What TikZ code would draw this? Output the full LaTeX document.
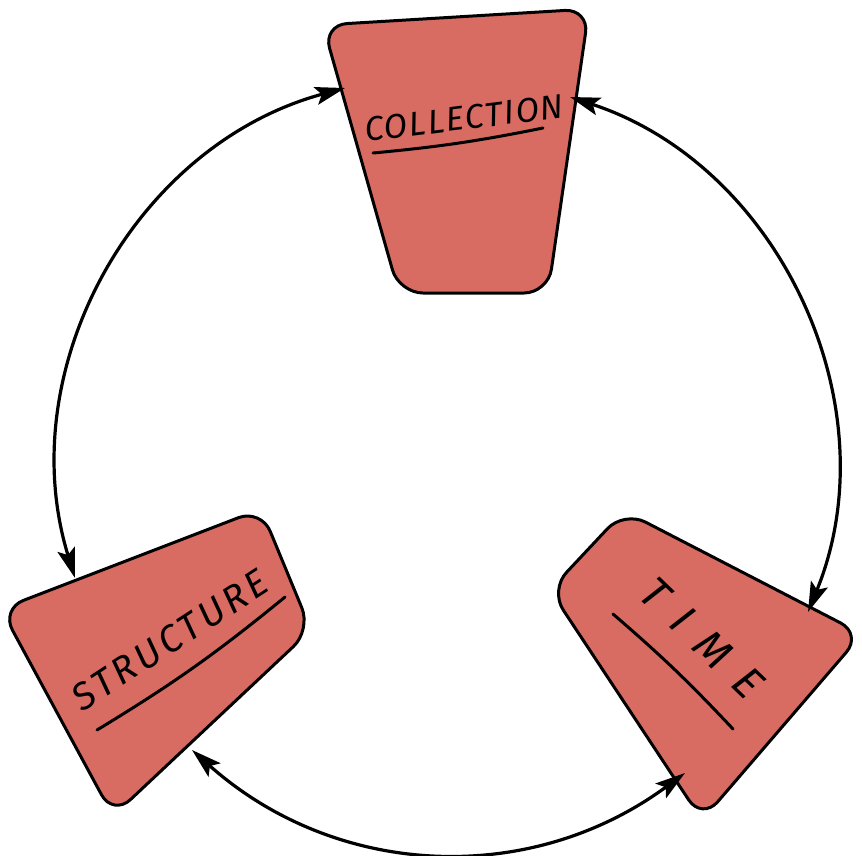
\documentclass[tikz,border=0pt]{standalone}
\usepackage{fontspec}
\setmainfont{Fira Sans}
\usetikzlibrary{arrows.meta,positioning}
\definecolor{blobred}{RGB}{217,108,98}
\begin{document}
\begin{tikzpicture}[x=1pt,y=-1pt,>={Stealth[length=30pt,width=18pt,inset=6pt]}]
\tikzstyle{blob}=[draw=black,fill=blobred,line width=3pt,rounded corners=24pt,line join=round]
\tikzstyle{lab}=[font=\fontsize{34}{40}\selectfont\itshape,inner sep=0pt]
\tikzstyle{uline}=[line width=3pt,line cap=round]
\tikzstyle{link}=[<->,line width=3.2pt]
\useasboundingbox (0,0) rectangle (862,855);
\draw[blob] (323,25) -- (589,9) -- (548,293) -- (399,293) -- cycle;
\draw[blob] (1,609) -- (261,509) -- (311,630) -- (113,816) -- cycle;
\draw[blob] (550,590) -- (624,511) -- (862,634) -- (702,820) -- cycle;
\node[lab,rotate=7] (coll) at (464,118) {\addfontfeature{LetterSpace=5}COLLECTION};
\node[lab,rotate=33,font=\fontsize{38}{44}\selectfont\itshape] (struc) at (170,640) {\addfontfeature{LetterSpace=10}STRUCTURE};
\node[lab,rotate=-44,font=\fontsize{44}{48}\selectfont\itshape] (time) at (702,638) {\addfontfeature{LetterSpace=45}TIME};
\draw[uline] (373,153) to[bend right=3] (543,128);
\draw[uline] (97,730) to[bend right=4] (285,597);
\draw[uline] (613,614) to[bend left=3] (733,729);
\coordinate (col-w) at (345,88);
\coordinate (col-e) at (570,97);
\coordinate (str-n) at (75,578);
\coordinate (str-se) at (192,750);
\coordinate (tim-sw) at (685,773);
\coordinate (tim-n) at (808,612);
\foreach \a/\b/\t in {col-w/str-n/46,str-se/tim-sw/39,tim-n/col-e/47} \draw[link] (\a) to[bend right=\t] (\b);
\end{tikzpicture}
\end{document}
